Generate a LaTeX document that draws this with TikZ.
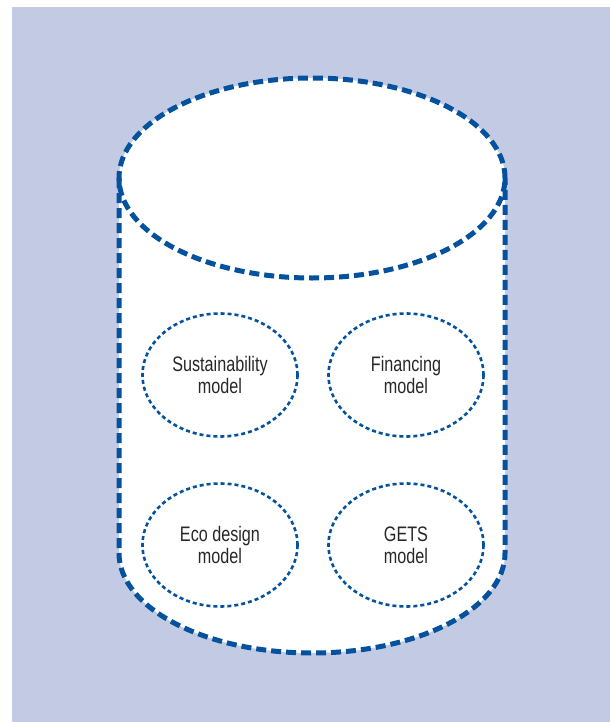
\documentclass[tikz,border=0pt]{standalone}
\usepackage{fontspec}
\setmainfont{Liberation Sans}[FakeStretch=0.77]
\usetikzlibrary{shapes.geometric}
\definecolor{bgblue}{RGB}{195,203,228}
\definecolor{lineblue}{RGB}{4,82,158}
\definecolor{textgray}{RGB}{40,40,40}

\begin{document}
\begin{tikzpicture}[x=1bp, y=-1bp,
    cyl/.style={draw=lineblue, line width=5bp, dash pattern=on 10bp off 5bp},
    model/.style={ellipse, draw=lineblue, line width=2.6bp, dash pattern=on 4bp off 3bp,
        minimum width=155bp, minimum height=123bp, inner sep=0pt, align=center,
        text=textgray, font=\fontsize{21bp}{22bp}\selectfont}]
\useasboundingbox (0,0) rectangle (610,722);
\fill [bgblue] (12,7) rectangle (610,722);
% cylinder
\fill [white] (119,178) -- (119,553) arc[start angle=180, end angle=360, x radius=193bp, y radius=100bp] -- (505,178) arc[start angle=0, end angle=180, x radius=193bp, y radius=100bp] -- cycle;
\draw [cyl] (119,178) -- (119,553) arc[start angle=180, end angle=360, x radius=193bp, y radius=100bp] -- (505,178);
\draw [cyl] (312,178) ellipse [x radius=193bp, y radius=100bp];
% models
\node (sust) [model] at (220,375) {Sustainability\\model};
\node (fin) [model] at (406,375) {Financing\\model};
\node (eco) [model] at (220,545) {Eco design\\model};
\node (gets) [model] at (406,545) {GETS\\model};
\end{tikzpicture}
\end{document}
